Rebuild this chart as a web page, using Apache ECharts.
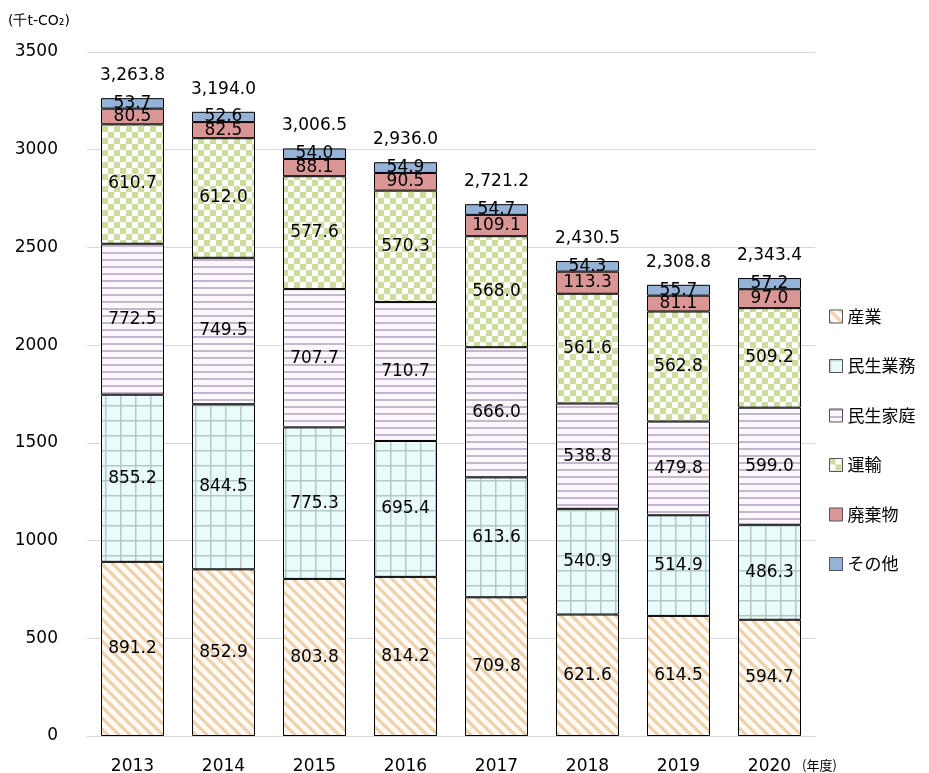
<!DOCTYPE html>
<html><head><meta charset="utf-8">
<script src="https://cdn.jsdelivr.net/npm/echarts@6/dist/echarts.min.js"></script>
<style>html,body{margin:0;padding:0;background:#fff}#c{width:929px;height:773px}</style>
</head><body><div id="c"></div>
<script>
const years = ['2013','2014','2015','2016','2017','2018','2019','2020'];
const sangyo   = [891.2, 852.9, 803.8, 814.2, 709.8, 621.6, 614.5, 594.7];
const gyomu    = [855.2, 844.5, 775.3, 695.4, 613.6, 540.9, 514.9, 486.3];
const katei    = [772.5, 749.5, 707.7, 710.7, 666.0, 538.8, 479.8, 599.0];
const unyu     = [610.7, 612.0, 577.6, 570.3, 568.0, 561.6, 562.8, 509.2];
const haiki    = [80.5, 82.5, 88.1, 90.5, 109.1, 113.3, 81.1, 97.0];
const sonota   = [53.7, 52.6, 54.0, 54.9, 54.7, 54.3, 55.7, 57.2];
const totals   = [3263.8, 3194.0, 3006.5, 2936.0, 2721.2, 2430.5, 2308.8, 2343.4];
const yTicks   = [0, 500, 1000, 1500, 2000, 2500, 3000, 3500];

function mk(w, h, draw) {
  const c = document.createElement('canvas'); c.width = w; c.height = h;
  draw(c.getContext('2d')); return c;
}
const pDiag = mk(11, 11, g => {
  g.fillStyle = '#fffaf6'; g.fillRect(0,0,11,11);
  g.strokeStyle = '#edd2ac'; g.lineWidth = 3.2;
  g.beginPath();
  g.moveTo(-5.5,-5.5); g.lineTo(16.5,16.5);
  g.moveTo(-5.5,5.5); g.lineTo(5.5,16.5);
  g.moveTo(5.5,-5.5); g.lineTo(16.5,5.5);
  g.stroke();
});
const pGrid = mk(15, 15, g => {
  g.fillStyle = '#eafbfb'; g.fillRect(0,0,15,15);
  g.fillStyle = '#b4c8c8';
  g.fillRect(0,0,15,1.5); g.fillRect(0,0,1.5,15);
});
const pHoriz = mk(8, 7, g => {
  g.fillStyle = '#fcf7fc'; g.fillRect(0,0,8,7);
  g.fillStyle = '#c4b9cc'; g.fillRect(0,0,8,2);
});
const pCheck = mk(12, 12, g => {
  g.fillStyle = '#ffffff'; g.fillRect(0,0,12,12);
  g.fillStyle = '#cddd9e'; g.fillRect(0,0,6,6); g.fillRect(6,6,6,6);
});
const pat = c => ({image: c, repeat: 'repeat'});

const lbl = {show: true, position: 'inside', color: '#000', fontSize: 17, fontFamily: 'DejaVu Sans',
  formatter: p => p.value.toFixed(1)};
function ser(name, data, color) {
  return {name, type: 'bar', stack: 't', data, barWidth: 63,
    itemStyle: {color, borderColor: '#000', borderWidth: 1}, label: lbl, emphasis: {disabled: true}};
}

const chart = echarts.init(document.getElementById('c'));
chart.setOption({
  animation: false,
  textStyle: {fontFamily: 'DejaVu Sans'},
  grid: {left: 87, right: 114, top: 52, bottom: 37, outerBoundsMode: 'none', containLabel: false},
  legend: {
    orient: 'vertical', left: 824, top: 303, itemGap: 32.5, itemWidth: 13, itemHeight: 13,
    icon: 'rect',
    data: ['産業','民生業務','民生家庭','運輸','廃棄物','その他'],
    textStyle: {fontSize: 17, color: '#000', fontFamily: 'Noto Sans CJK JP'},
    itemStyle: {borderColor: '#555', borderWidth: 1}
  },
  xAxis: {type: 'category', data: years,
    axisLine: {show: true, lineStyle: {color: '#d9d9d9'}}, axisTick: {show: false},
    axisLabel: {fontSize: 17, color: '#000', margin: 22},
    name: '(年度)', nameLocation: 'end', nameGap: -13,
    nameTextStyle: {fontSize: 13, color: '#000', fontFamily: 'Noto Sans CJK JP', verticalAlign: 'top', padding: [23,0,0,0]}
  },
  yAxis: {type: 'value', min: 0, max: 3500, interval: 500,
    axisLabel: {fontSize: 17, color: '#000', margin: 29,
      formatter: v => yTicks.includes(v) ? String(v) : ''},
    splitLine: {lineStyle: {color: '#d9d9d9'}},
    name: '(千t-CO₂)', nameLocation: 'end', nameGap: 24,
    nameTextStyle: {fontSize: 14, color: '#000', fontFamily: 'DejaVu Sans', align: 'left', padding: [0,0,0,-79]}
  },
  series: [
    ser('産業', sangyo, pat(pDiag)),
    ser('民生業務', gyomu, pat(pGrid)),
    ser('民生家庭', katei, pat(pHoriz)),
    ser('運輸', unyu, pat(pCheck)),
    ser('廃棄物', haiki, '#d99694'),
    ser('その他', sonota, '#95b3d7'),
    {name: 'total', type: 'scatter', data: totals, symbolSize: 0, silent: true,
      itemStyle: {opacity: 1, color: '#000'},
      label: {show: true, position: 'top', distance: 14, color: '#000', fontSize: 17, fontFamily: 'DejaVu Sans',
        formatter: p => p.value.toLocaleString('en-US', {minimumFractionDigits: 1, maximumFractionDigits: 1})}}
  ]
});
</script></body></html>
